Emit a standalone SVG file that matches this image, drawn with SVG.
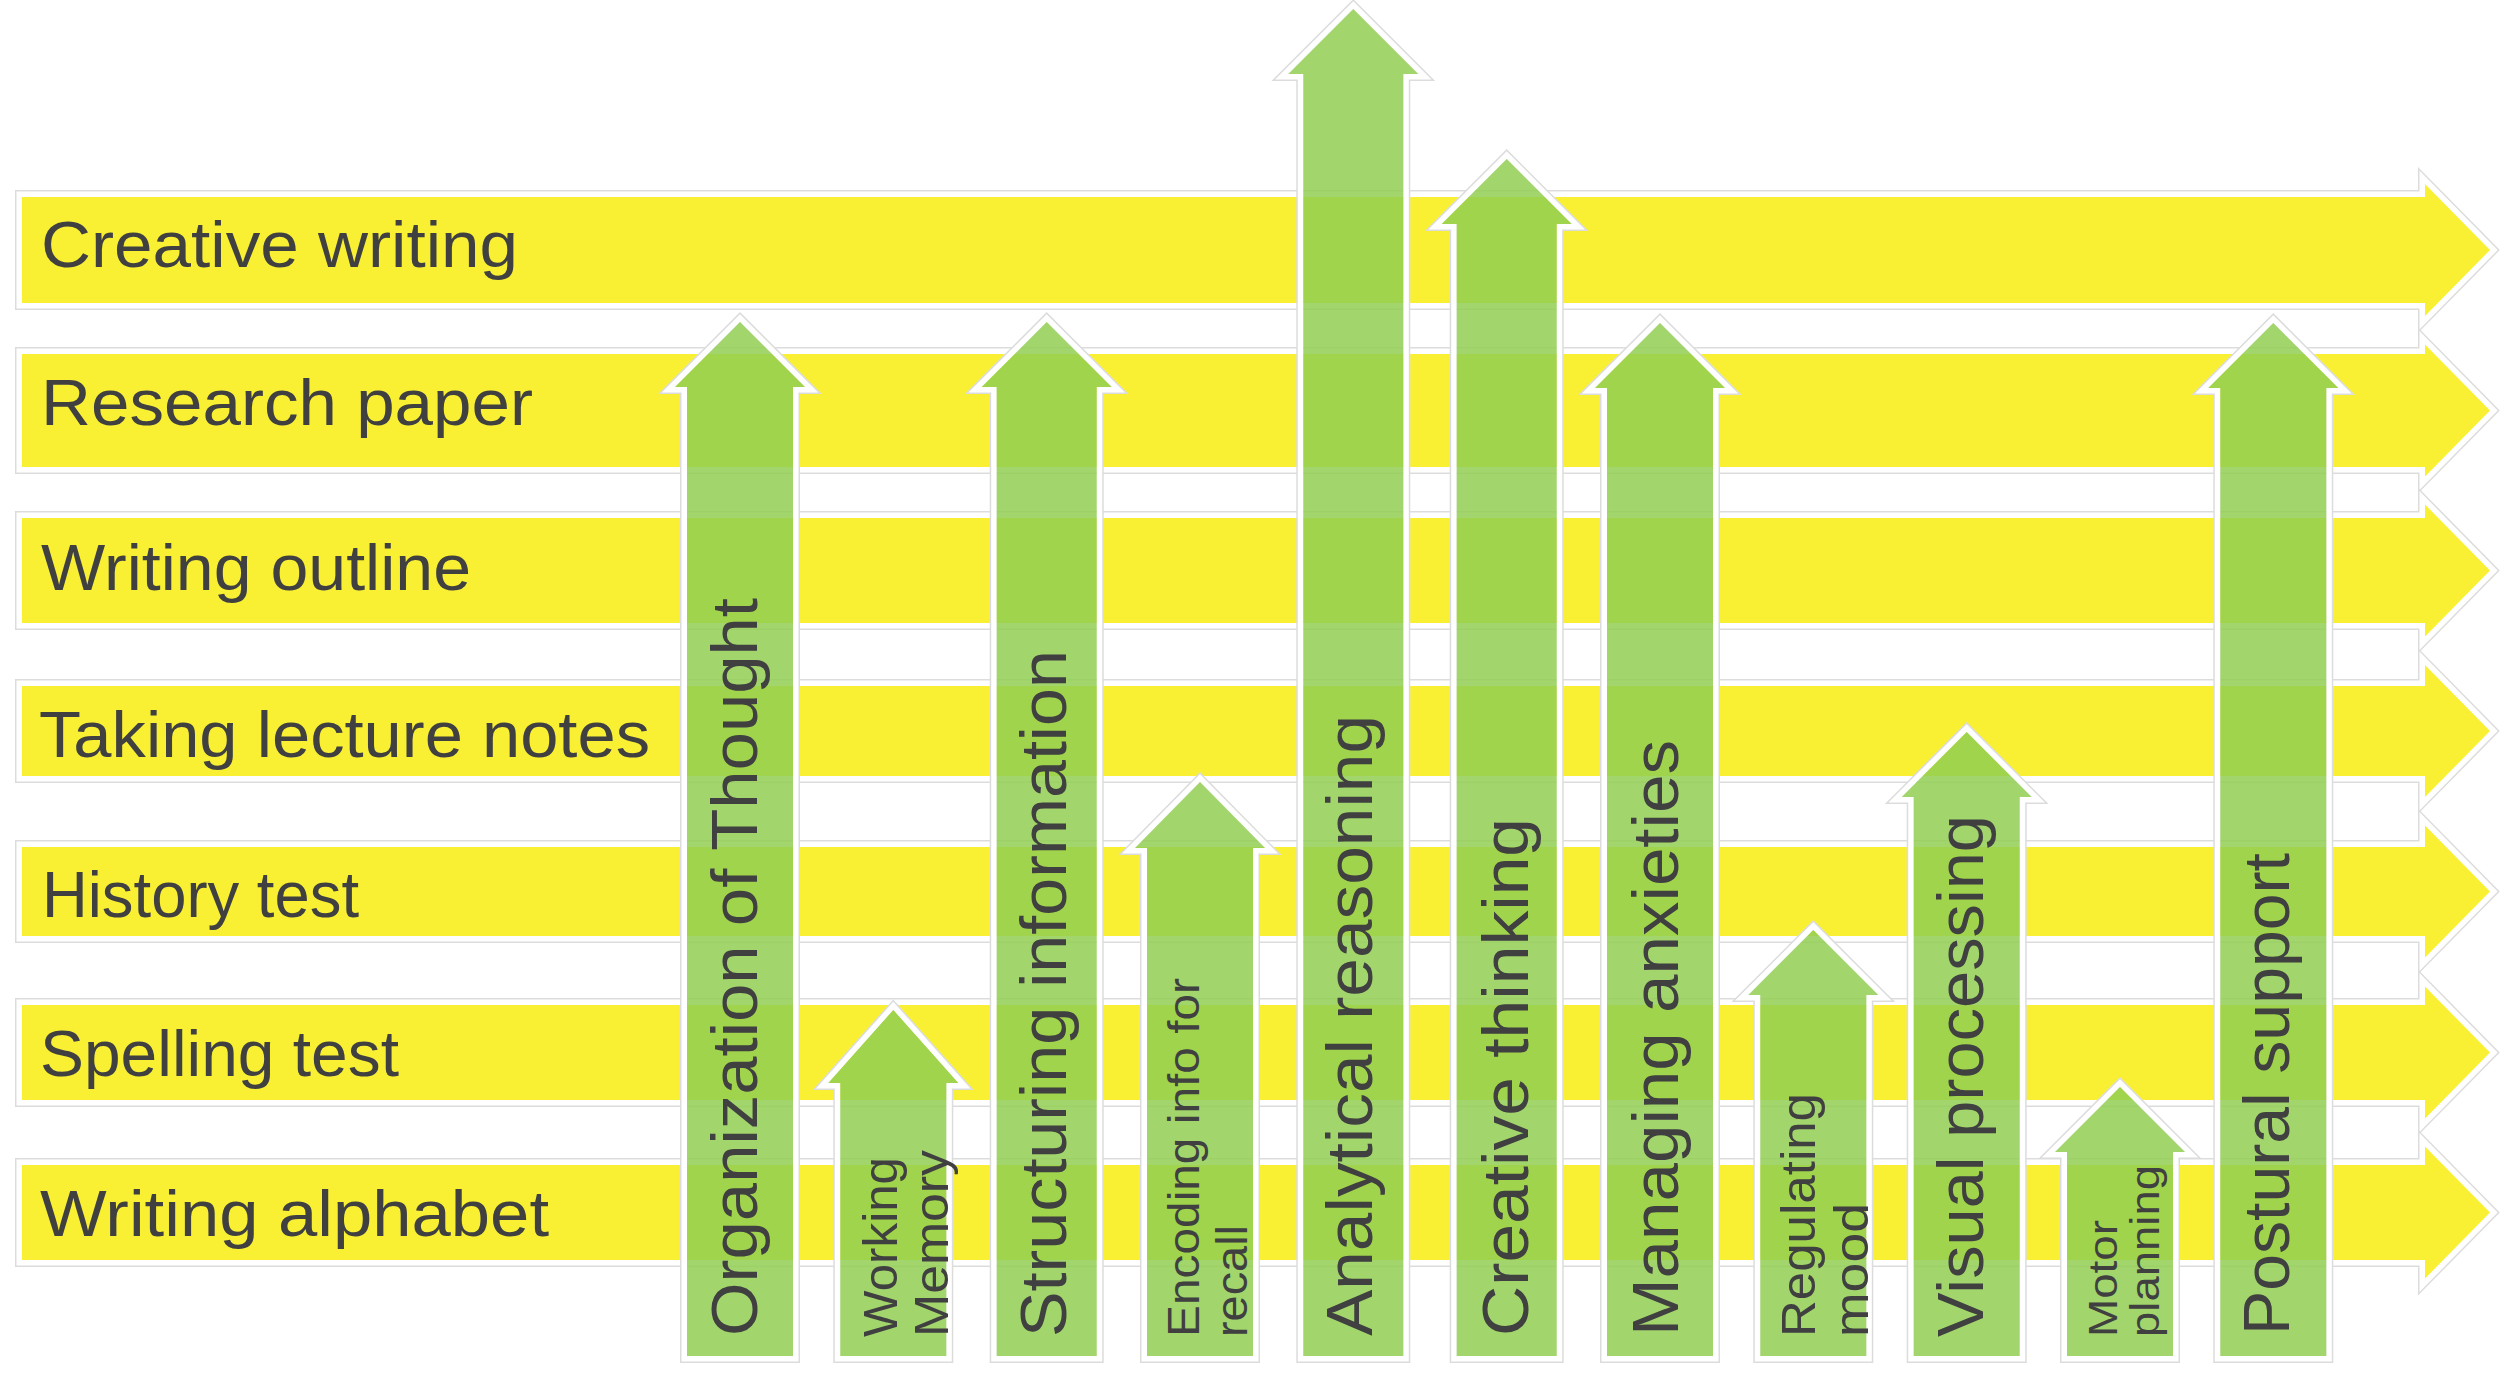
<svg xmlns="http://www.w3.org/2000/svg" xmlns:xlink="http://www.w3.org/1999/xlink" width="2500" height="1379" viewBox="0 0 2500 1379">
<style>
.yo1{fill:none;stroke:#dcdcdc;stroke-width:14;stroke-linejoin:miter}
.yo2{fill:none;stroke:#ffffff;stroke-width:11;stroke-linejoin:miter}
.yf{fill:#f9f033;stroke:none}
.gf{fill:#92cf52;fill-opacity:0.85;stroke:none}
text{font-family:"Liberation Sans",Arial,sans-serif;fill:#404040}
.lbl{font-size:64px}
.big{font-size:64px}
.mid{font-size:48px}
.sm{font-size:44px}
.xs{font-size:40px}
</style>
<defs>
<path id="ya1" d="M22 197H2425V184L2490 250L2425 316V303H22Z"/>
<path id="ya2" d="M22 354H2425V344.5L2490 410.5L2425 476.5V467H22Z"/>
<path id="ya3" d="M22 518H2425V504.5L2490 570.5L2425 636.5V623H22Z"/>
<path id="ya4" d="M22 686H2425V665L2490 731L2425 797V776H22Z"/>
<path id="ya5" d="M22 847H2425V825.5L2490 891.5L2425 957.5V936H22Z"/>
<path id="ya6" d="M22 1005H2425V986.5L2490 1052.5L2425 1118.5V1100H22Z"/>
<path id="ya7" d="M22 1165H2425V1146.5L2490 1212.5L2425 1278.5V1260H22Z"/>
<path id="ga1" d="M687 1356V387H675L740 322L805 387H793V1356Z"/>
<path id="ga2" d="M840.3 1356V1083H828.3L893.3 1010L958.3 1083H946.3V1356Z"/>
<path id="ga3" d="M996.7 1356V387H981.7L1046.7 322L1111.7 387H1096.7V1356Z"/>
<path id="ga4" d="M1147 1356V848H1135L1200 782L1265 848H1253V1356Z"/>
<path id="ga5" d="M1303.3 1356V74H1288.3L1353.3 9L1418.3 74H1403.3V1356Z"/>
<path id="ga6" d="M1456.7 1356V224H1441.7L1506.7 159L1571.7 224H1556.7V1356Z"/>
<path id="ga7" d="M1607 1356V388H1595L1660 323L1725 388H1713V1356Z"/>
<path id="ga8" d="M1760.3 1356V995H1748.3L1813.3 930L1878.3 995H1866.3V1356Z"/>
<path id="ga9" d="M1913.7 1356V797H1901.7L1966.7 732L2031.7 797H2019.7V1356Z"/>
<path id="ga10" d="M2067 1356V1152H2055L2120 1087L2185 1152H2173V1356Z"/>
<path id="ga11" d="M2220.3 1356V388H2208.3L2273.3 323L2338.3 388H2326.3V1356Z"/>
<mask id="gmask" maskUnits="userSpaceOnUse" x="0" y="0" width="2500" height="1379">
<rect x="0" y="0" width="2500" height="1379" fill="#fff"/>
<use href="#ga1" fill="#000"/><use href="#ga2" fill="#000"/><use href="#ga3" fill="#000"/><use href="#ga4" fill="#000"/>
<use href="#ga5" fill="#000"/><use href="#ga6" fill="#000"/><use href="#ga7" fill="#000"/><use href="#ga8" fill="#000"/>
<use href="#ga9" fill="#000"/><use href="#ga10" fill="#000"/><use href="#ga11" fill="#000"/>
</mask>
</defs>
<rect x="0" y="0" width="2500" height="1379" fill="#ffffff"/>

<g id="tasks">
<g id="task-creative-writing"><use href="#ya1" class="yo1"/><use href="#ya1" class="yo2"/><use href="#ya1" class="yf"/>
<text class="lbl" x="41" y="267" textLength="477" lengthAdjust="spacingAndGlyphs">Creative writing</text></g>
<g id="task-research-paper"><use href="#ya2" class="yo1"/><use href="#ya2" class="yo2"/><use href="#ya2" class="yf"/>
<text class="lbl" x="41" y="425" textLength="492" lengthAdjust="spacingAndGlyphs">Research paper</text></g>
<g id="task-writing-outline"><use href="#ya3" class="yo1"/><use href="#ya3" class="yo2"/><use href="#ya3" class="yf"/>
<text class="lbl" x="41" y="590" textLength="430" lengthAdjust="spacingAndGlyphs">Writing outline</text></g>
<g id="task-lecture-notes"><use href="#ya4" class="yo1"/><use href="#ya4" class="yo2"/><use href="#ya4" class="yf"/>
<text class="lbl" x="39" y="757" textLength="611" lengthAdjust="spacingAndGlyphs">Taking lecture notes</text></g>
<g id="task-history-test"><use href="#ya5" class="yo1"/><use href="#ya5" class="yo2"/><use href="#ya5" class="yf"/>
<text class="lbl" x="42" y="917" textLength="317" lengthAdjust="spacingAndGlyphs">History test</text></g>
<g id="task-spelling-test"><use href="#ya6" class="yo1"/><use href="#ya6" class="yo2"/><use href="#ya6" class="yf"/>
<text class="lbl" x="40" y="1076" textLength="359" lengthAdjust="spacingAndGlyphs">Spelling test</text></g>
<g id="task-writing-alphabet"><use href="#ya7" class="yo1"/><use href="#ya7" class="yo2"/><use href="#ya7" class="yf"/>
<text class="lbl" x="40" y="1236" textLength="509" lengthAdjust="spacingAndGlyphs">Writing alphabet</text></g>
</g>

<g id="skills">
<g id="skill-organization"><use href="#ga1" class="yo1" mask="url(#gmask)"/><use href="#ga1" class="yo2" mask="url(#gmask)"/><use href="#ga1" class="gf"/>
<text class="big" x="757" y="1336" transform="rotate(-90 757 1336)" textLength="738" lengthAdjust="spacingAndGlyphs">Organization of Thought</text></g>
<g id="skill-working-memory"><use href="#ga2" class="yo1" mask="url(#gmask)"/><use href="#ga2" class="yo2" mask="url(#gmask)"/><use href="#ga2" class="gf"/>
<text class="mid" x="897" y="1337" transform="rotate(-90 897 1337)" textLength="180" lengthAdjust="spacingAndGlyphs">Working</text>
<text class="mid" x="948" y="1337" transform="rotate(-90 948 1337)" textLength="187" lengthAdjust="spacingAndGlyphs">Memory</text></g>
<g id="skill-structuring"><use href="#ga3" class="yo1" mask="url(#gmask)"/><use href="#ga3" class="yo2" mask="url(#gmask)"/><use href="#ga3" class="gf"/>
<text class="big" x="1066" y="1337" transform="rotate(-90 1066 1337)" textLength="687" lengthAdjust="spacingAndGlyphs">Structuring information</text></g>
<g id="skill-encoding"><use href="#ga4" class="yo1" mask="url(#gmask)"/><use href="#ga4" class="yo2" mask="url(#gmask)"/><use href="#ga4" class="gf"/>
<text class="sm" x="1199" y="1337" transform="rotate(-90 1199 1337)" textLength="359" lengthAdjust="spacingAndGlyphs">Encoding info for</text>
<text class="sm" x="1247" y="1337" transform="rotate(-90 1247 1337)" textLength="112" lengthAdjust="spacingAndGlyphs">recall</text></g>
<g id="skill-analytical"><use href="#ga5" class="yo1" mask="url(#gmask)"/><use href="#ga5" class="yo2" mask="url(#gmask)"/><use href="#ga5" class="gf"/>
<text class="big" x="1372" y="1336" transform="rotate(-90 1372 1336)" textLength="621" lengthAdjust="spacingAndGlyphs">Analytical reasoning</text></g>
<g id="skill-creative-thinking"><use href="#ga6" class="yo1" mask="url(#gmask)"/><use href="#ga6" class="yo2" mask="url(#gmask)"/><use href="#ga6" class="gf"/>
<text class="big" x="1528" y="1336" transform="rotate(-90 1528 1336)" textLength="518" lengthAdjust="spacingAndGlyphs">Creative thinking</text></g>
<g id="skill-managing-anxieties"><use href="#ga7" class="yo1" mask="url(#gmask)"/><use href="#ga7" class="yo2" mask="url(#gmask)"/><use href="#ga7" class="gf"/>
<text class="big" x="1678" y="1336" transform="rotate(-90 1678 1336)" textLength="596" lengthAdjust="spacingAndGlyphs">Managing anxieties</text></g>
<g id="skill-regulating-mood"><use href="#ga8" class="yo1" mask="url(#gmask)"/><use href="#ga8" class="yo2" mask="url(#gmask)"/><use href="#ga8" class="gf"/>
<text class="mid" x="1815" y="1337" transform="rotate(-90 1815 1337)" textLength="244" lengthAdjust="spacingAndGlyphs">Regulating</text>
<text class="mid" x="1868" y="1337" transform="rotate(-90 1868 1337)" textLength="134" lengthAdjust="spacingAndGlyphs">mood</text></g>
<g id="skill-visual-processing"><use href="#ga9" class="yo1" mask="url(#gmask)"/><use href="#ga9" class="yo2" mask="url(#gmask)"/><use href="#ga9" class="gf"/>
<text class="big" x="1983" y="1337" transform="rotate(-90 1983 1337)" textLength="522" lengthAdjust="spacingAndGlyphs">Visual processing</text></g>
<g id="skill-motor-planning"><use href="#ga10" class="yo1" mask="url(#gmask)"/><use href="#ga10" class="yo2" mask="url(#gmask)"/><use href="#ga10" class="gf"/>
<text class="xs" x="2117" y="1337" transform="rotate(-90 2117 1337)" textLength="117" lengthAdjust="spacingAndGlyphs">Motor</text>
<text class="xs" x="2159" y="1337" transform="rotate(-90 2159 1337)" textLength="172" lengthAdjust="spacingAndGlyphs">planning</text></g>
<g id="skill-postural-support"><use href="#ga11" class="yo1" mask="url(#gmask)"/><use href="#ga11" class="yo2" mask="url(#gmask)"/><use href="#ga11" class="gf"/>
<text class="big" x="2289" y="1335" transform="rotate(-90 2289 1335)" textLength="482" lengthAdjust="spacingAndGlyphs">Postural support</text></g>
</g>

<g id="connectors"></g>
</svg>
